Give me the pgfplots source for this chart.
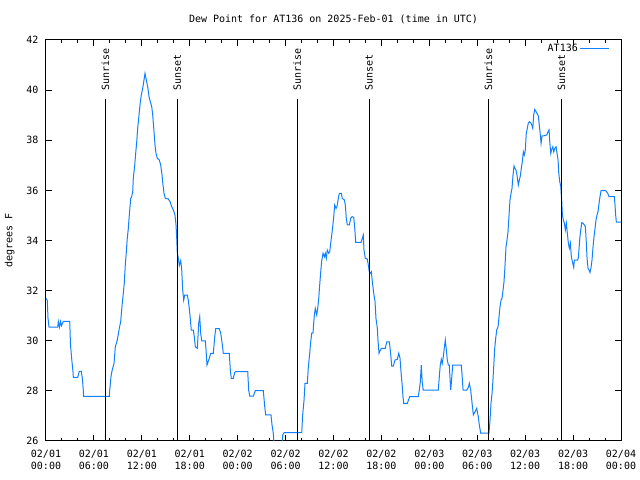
\documentclass[border=0pt]{standalone}
\usepackage{pgfplots}
\pgfplotsset{compat=1.18}
\usepackage{fontspec}
\setmainfont{DejaVu Sans Mono}
\definecolor{dew}{RGB}{16,128,255}
\begin{document}
\begin{tikzpicture}
\useasboundingbox (0,0) rectangle (640bp,480bp);
\begin{axis}[
  at={(46bp,39bp)}, anchor=south west,
  width=575bp, height=401bp, scale only axis,
  xmin=0, xmax=72, ymin=26, ymax=42,
  font=\fontsize{10bp}{12bp}\selectfont,
  axis line style={line width=1bp},
  every tick/.style={black, line width=1bp},
  major tick length=6bp, minor tick length=3bp,
  xtick={0,6,...,72},
  minor xtick={0,2,...,72},
  xticklabels={02/01\\00:00,02/01\\06:00,02/01\\12:00,02/01\\18:00,02/02\\00:00,02/02\\06:00,02/02\\12:00,02/02\\18:00,02/03\\00:00,02/03\\06:00,02/03\\12:00,02/03\\18:00,02/04\\00:00},
  xticklabel style={align=center, font=\fontsize{10bp}{12bp}\selectfont, yshift=-6bp},
  ytick={26,28,...,42},
  yticklabel style={font=\fontsize{10bp}{12bp}\selectfont, xshift=-4bp},
  /pgf/number format/assume math mode=true,
  title={Dew Point for AT136 on 2025-Feb-01 (time in UTC)},
  title style={at={(0.5,1)}, anchor=south, yshift=10bp, inner sep=0pt},
  ylabel={degrees F},
  ylabel style={at={(axis description cs:-0.063,0.5)}, anchor=center},
  legend style={at={(1,1)}, anchor=north east, xshift=-11bp, yshift=-2bp, draw=none, fill=none, inner sep=0pt, font=\fontsize{10bp}{12bp}\selectfont},
  legend plot pos=right,
  legend image code/.code={\draw[#1] (0bp,0bp) -- (29bp,0bp);},
  clip=true,
]
\addplot[dew, line width=1bp] coordinates {
(0.00,31.70)(0.16,31.60)(0.25,30.90)(0.38,30.54)(1.47,30.54)(1.54,30.77)(1.69,30.54)(1.82,30.77)(1.94,30.60)(2.17,30.77)(2.97,30.77)
(3.07,29.83)(3.22,29.27)(3.38,28.76)(3.42,28.54)(3.97,28.54)(4.17,28.78)(4.42,28.78)(4.55,28.50)(4.67,28.03)(4.72,27.78)(7.93,27.78)
(7.98,28.03)(8.14,28.57)(8.26,28.79)(8.52,29.10)(8.68,29.76)(8.93,30.03)(9.18,30.50)(9.35,30.76)(9.55,31.49)(9.68,31.89)(9.80,32.30)
(9.93,33.02)(10.06,33.55)(10.18,34.09)(10.31,34.49)(10.43,35.02)(10.61,35.68)(10.73,35.75)(10.86,35.95)(10.93,36.48)(11.11,37.01)
(11.23,37.48)(11.36,37.94)(11.48,38.48)(11.61,38.88)(11.77,39.41)(11.93,39.81)(12.11,40.07)(12.27,40.40)(12.40,40.67)(12.56,40.40)
(12.73,40.14)(12.90,39.74)(13.06,39.54)(13.24,39.34)(13.36,39.01)(13.49,38.48)(13.65,37.81)(13.77,37.48)(13.94,37.28)(14.19,37.21)
(14.36,37.01)(14.53,36.61)(14.65,36.21)(14.78,35.88)(14.94,35.68)(15.31,35.66)(15.53,35.55)(15.74,35.35)(15.94,35.22)(16.15,35.02)
(16.28,34.62)(16.37,34.09)(16.44,33.52)(16.57,33.29)(16.69,33.00)(16.87,33.20)(16.99,32.85)(17.12,32.02)(17.24,31.62)(17.37,31.82)
(17.69,31.82)(17.82,31.62)(17.94,31.29)(18.07,30.89)(18.19,30.42)(18.45,30.42)(18.57,30.16)(18.70,29.76)(18.95,29.70)(19.12,30.70)
(19.25,30.96)(19.37,30.30)(19.50,29.99)(19.95,29.99)(20.04,29.63)(20.16,29.03)(20.29,29.16)(20.45,29.30)(20.62,29.50)(20.95,29.50)
(21.13,30.16)(21.25,30.48)(21.70,30.48)(21.88,30.30)(22.00,30.03)(22.13,29.70)(22.20,29.50)(22.95,29.50)(23.08,28.83)(23.20,28.50)
(23.45,28.50)(23.63,28.73)(23.75,28.77)(25.26,28.77)(25.38,28.03)(25.51,27.79)(25.96,27.79)(26.21,28.01)(27.21,28.01)(27.39,27.37)
(27.51,27.04)(28.17,27.04)(28.30,26.64)(28.46,26.31)(28.55,25.90)(29.55,25.90)(29.64,26.24)(29.80,26.33)(32.02,26.33)(32.14,27.04)
(32.31,27.63)(32.43,28.30)(32.72,28.30)(32.85,28.96)(33.02,29.50)(33.15,29.96)(33.27,30.30)(33.43,30.30)(33.60,31.03)(33.72,31.29)
(33.90,31.03)(34.02,31.29)(34.15,31.69)(34.27,32.22)(34.40,32.75)(34.52,33.18)(34.69,33.49)(34.85,33.35)(34.97,33.49)(35.10,33.29)
(35.22,33.62)(35.40,33.49)(35.53,33.55)(35.65,33.89)(35.78,34.22)(35.90,34.55)(36.03,34.95)(36.15,35.42)(36.32,35.28)(36.44,35.35)
(36.60,35.68)(36.73,35.88)(36.98,35.88)(37.10,35.68)(37.35,35.62)(37.48,35.42)(37.60,34.89)(37.73,34.62)(37.98,34.62)(38.16,34.89)
(38.32,34.95)(38.53,34.93)(38.66,34.49)(38.78,33.93)(39.45,33.93)(39.61,34.09)(39.73,34.22)(39.82,33.62)(39.98,33.29)(40.23,33.26)
(40.36,33.02)(40.48,32.75)(40.61,32.69)(40.74,32.75)(40.86,32.36)(41.07,31.82)(41.20,31.56)(41.32,30.89)(41.49,30.50)(41.58,29.96)
(41.70,29.50)(41.83,29.60)(41.99,29.70)(42.49,29.70)(42.67,29.96)(43.00,29.96)(43.17,29.43)(43.29,28.99)(43.49,28.99)(43.70,29.23)
(43.99,29.26)(44.17,29.50)(44.33,29.30)(44.45,28.77)(44.58,28.30)(44.70,27.77)(44.79,27.50)(45.24,27.50)(45.54,27.77)(46.62,27.77)
(46.74,28.03)(46.87,28.36)(46.99,29.03)(47.12,28.30)(47.24,28.03)(49.12,28.03)(49.25,28.57)(49.37,29.03)(49.50,29.26)(49.62,29.10)
(49.75,29.37)(49.87,29.70)(50.00,30.03)(50.13,29.63)(50.25,29.23)(50.38,29.03)(50.50,29.03)(50.59,28.50)(50.68,28.03)(50.80,28.50)
(50.93,29.03)(52.00,29.03)(52.13,28.50)(52.22,28.03)(52.68,28.03)(52.88,28.14)(53.01,28.30)(53.18,28.03)(53.31,27.63)(53.51,27.04)
(53.72,27.17)(53.93,27.30)(54.13,26.97)(54.26,26.64)(54.43,26.31)(55.47,26.31)(55.60,26.84)(55.72,27.50)(55.85,27.90)(55.94,28.30)
(56.06,28.96)(56.19,29.70)(56.31,30.10)(56.44,30.43)(56.60,30.56)(56.73,30.96)(56.85,31.36)(56.98,31.62)(57.10,31.69)(57.23,32.02)
(57.35,32.36)(57.48,33.02)(57.60,33.75)(57.73,34.02)(57.85,34.35)(57.98,35.02)(58.10,35.62)(58.23,35.88)(58.35,36.08)(58.48,36.61)
(58.60,36.97)(58.73,36.88)(58.85,36.81)(58.98,36.61)(59.14,36.21)(59.27,36.41)(59.39,36.57)(59.52,36.88)(59.64,37.14)(59.77,37.54)
(59.89,37.41)(60.02,37.61)(60.14,38.28)(60.27,38.48)(60.39,38.68)(60.52,38.74)(60.70,38.70)(60.82,38.61)(60.95,38.48)(61.07,39.01)
(61.20,39.23)(61.36,39.14)(61.52,39.05)(61.65,38.97)(61.74,38.68)(61.86,38.34)(61.99,37.88)(62.11,38.17)(62.28,38.17)(62.70,38.21)
(62.87,38.34)(62.99,38.41)(63.08,37.94)(63.20,37.48)(63.33,37.64)(63.46,37.74)(63.58,37.54)(63.71,37.68)(63.87,37.74)(63.99,37.48)
(64.12,37.21)(64.21,36.68)(64.33,36.35)(64.46,36.15)(64.58,35.55)(64.66,35.02)(64.78,34.82)(64.91,34.69)(65.03,34.42)(65.16,34.69)
(65.28,34.29)(65.41,33.89)(65.53,33.69)(65.66,33.89)(65.78,33.35)(65.96,33.09)(66.08,32.93)(66.16,33.22)(66.58,33.22)(66.66,33.33)
(66.75,33.69)(66.84,34.09)(66.96,34.42)(67.09,34.71)(67.25,34.69)(67.41,34.62)(67.54,34.55)(67.66,33.89)(67.75,33.29)(67.87,32.89)
(68.00,32.82)(68.12,32.72)(68.25,32.93)(68.37,33.22)(68.50,33.75)(68.62,34.15)(68.75,34.49)(68.87,34.82)(69.00,35.02)(69.12,35.15)
(69.25,35.48)(69.37,35.75)(69.50,35.99)(70.09,35.99)(70.34,35.88)(70.50,35.75)(71.16,35.75)(71.25,35.42)(71.33,35.02)(71.42,34.73)
(72.00,34.73)
};
\addlegendentry{AT136}
% sunrise / sunset markers
\addplot[black, line width=1bp, forget plot] coordinates {(7.43,26)(7.43,39.63)};
\addplot[black, line width=1bp, forget plot] coordinates {(16.42,26)(16.42,39.63)};
\addplot[black, line width=1bp, forget plot] coordinates {(31.45,26)(31.45,39.63)};
\addplot[black, line width=1bp, forget plot] coordinates {(40.45,26)(40.45,39.63)};
\addplot[black, line width=1bp, forget plot] coordinates {(55.40,26)(55.40,39.63)};
\addplot[black, line width=1bp, forget plot] coordinates {(64.55,26)(64.55,39.63)};
\node[rotate=90, anchor=west, inner sep=0pt, xshift=1bp] at (axis cs:7.43,39.92) {Sunrise};
\node[rotate=90, anchor=west, inner sep=0pt, xshift=1bp] at (axis cs:16.42,39.92) {Sunset};
\node[rotate=90, anchor=west, inner sep=0pt, xshift=1bp] at (axis cs:31.45,39.92) {Sunrise};
\node[rotate=90, anchor=west, inner sep=0pt, xshift=1bp] at (axis cs:40.45,39.92) {Sunset};
\node[rotate=90, anchor=west, inner sep=0pt, xshift=1bp] at (axis cs:55.40,39.92) {Sunrise};
\node[rotate=90, anchor=west, inner sep=0pt, xshift=1bp] at (axis cs:64.55,39.92) {Sunset};
\end{axis}
\end{tikzpicture}
\end{document}
